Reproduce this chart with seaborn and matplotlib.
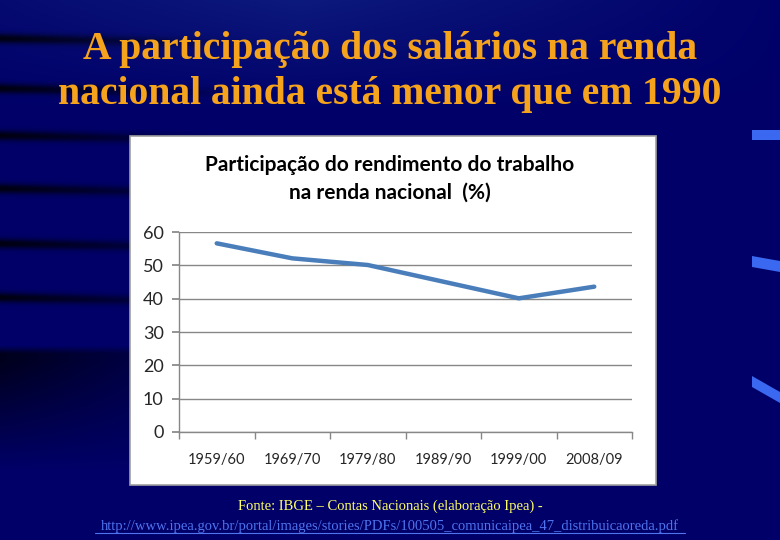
import numpy as np
import matplotlib
matplotlib.use("Agg")
import matplotlib.pyplot as plt
from matplotlib.patches import Rectangle, Polygon
import seaborn as sns

# data
periodos = ['1959/60', '1969/70', '1979/80', '1989/90', '1999/00', '2008/09']
participacao = [56.6, 52.1, 50.1, 45.1, 40.1, 43.6]
y_ticks = [0, 10, 20, 30, 40, 50, 60]

titulo_slide = 'A participação dos salários na renda\nnacional ainda está menor que em 1990'
titulo_grafico = 'Participação do rendimento do trabalho\nna renda nacional  (%)'
fonte = 'Fonte: IBGE – Contas Nacionais (elaboração Ipea) -'
url = 'http://www.ipea.gov.br/portal/images/stories/PDFs/100505_comunicaipea_47_distribuicaoreda.pdf'

sns.set_theme(style='white')
plt.rcParams['font.family'] = ['Lato', 'DejaVu Sans']

W, H = 780, 540
fig = plt.figure(figsize=(W / 100, H / 100), dpi=100)

# slide background: navy with a lighter sweep at the top and dark streaks on the left
yy, xx = np.mgrid[0:H, 0:W].astype(float)
img = np.zeros((H, W, 3))
img[..., 2] = 0.41
sweep = np.clip(1 - yy / 110, 0, 1) * np.clip(1 - np.abs(xx - 300) / 500, 0, 1)
img[..., 1] += 0.10 * sweep
img[..., 0] += 0.05 * sweep
img[..., 2] += 0.08 * sweep
fade = np.clip(1 - xx / 260, 0, 1)
dark = np.zeros((H, W))
for y0 in [38, 88, 135, 188, 243, 297]:
    dark = np.maximum(dark, np.exp(-((yy - y0 - xx * 0.02) ** 2) / (2 * 3.5 ** 2)))
low = np.clip((yy - 345) / 8, 0, 1) * np.clip(1 - (yy - 360) / 110, 0, 1)
dark = np.maximum(dark, low * 0.85)
img *= (1 - 0.85 * dark * fade)[..., None]
bg = fig.add_axes([0, 0, 1, 1], zorder=-10)
bg.imshow(np.clip(img, 0, 1), aspect='auto', extent=[0, W, H, 0])
for pts in ([(752, 130), (780, 130), (780, 140), (752, 140)],
            [(752, 256), (780, 261), (780, 272), (752, 267)],
            [(752, 376), (780, 392), (780, 403), (752, 387)]):
    bg.add_patch(Polygon(pts, closed=True, color='#3a68f0', lw=0))
bg.set_xlim(0, W)
bg.set_ylim(H, 0)
bg.axis('off')

# white chart panel
fig.patches.append(Rectangle((130 / W, 1 - 485 / H), 526 / W, 349 / H,
                             transform=fig.transFigure, facecolor='white',
                             edgecolor='#a0a0a0', lw=1.2, zorder=-5))

fig.text(0.5, 1 - 72 / H, titulo_slide, ha='center', va='center',
         family='Liberation Serif', fontweight='bold', fontsize=28.5,
         color='#f5a21c', linespacing=1.32)

fig.text(0.5, 1 - 179 / H, titulo_grafico, ha='center', va='center',
         fontweight='bold', fontsize=15, color='black', linespacing=1.5)

ax = fig.add_axes([179 / W, 1 - 432 / H, 453 / W, 200 / H])
x = np.arange(len(periodos))
sns.lineplot(x=x, y=participacao, ax=ax, color='#4a7ebb', lw=3.2)

ax.set_xlim(-0.5, len(periodos) - 0.5)
ax.set_ylim(0, 60)
ax.set_yticks(y_ticks)
ax.set_yticklabels([str(v) for v in y_ticks], fontsize=13)
ax.set_xticks(x)
ax.set_xticklabels(periodos, fontsize=10.5)
ax.set_xticks(np.arange(-0.5, len(periodos)), minor=True)
ax.yaxis.grid(True, color='#878787', lw=1)
ax.set_axisbelow(True)
for s in ['top', 'right']:
    ax.spines[s].set_visible(False)
for s in ['left', 'bottom']:
    ax.spines[s].set_color('#878787')
    ax.spines[s].set_linewidth(1)
ax.tick_params(axis='y', which='major', length=5, color='#878787', pad=6, left=True)
ax.tick_params(axis='x', which='major', length=0, pad=15)
ax.tick_params(axis='x', which='minor', length=5, color='#878787', bottom=True)
ax.set_facecolor('none')

fig.text(0.5, 1 - 506 / H, fonte, ha='center', va='center',
         family='Liberation Serif', fontsize=10.5, color='#ffff66')
fig.text(0.5, 1 - 526 / H, url, ha='center', va='center',
         family='Liberation Serif', fontsize=10.5, color='#4f74ee')
# underline for the link
fig.add_artist(plt.Line2D([95 / W, 685 / W], [1 - 533 / H, 1 - 533 / H],
                          transform=fig.transFigure, color='#4f74ee', lw=0.8))

fig.savefig('out.png', dpi=100)
